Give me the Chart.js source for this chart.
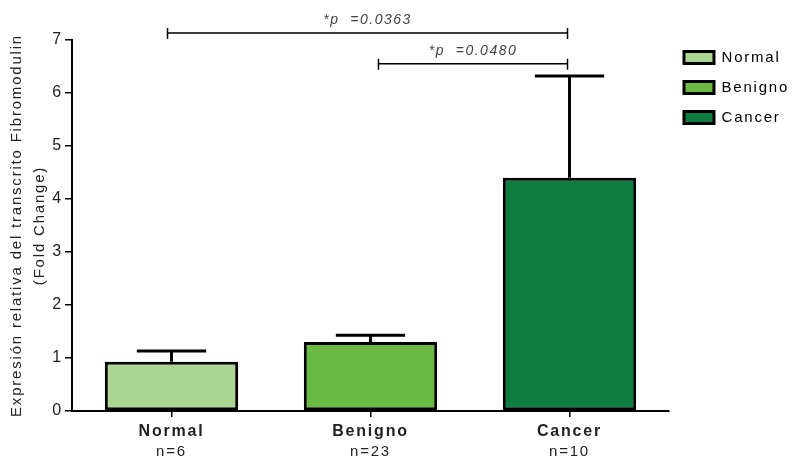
<!DOCTYPE html>
<html>
<head>
<meta charset="utf-8">
<script src="https://cdn.jsdelivr.net/npm/chart.js@4"></script>
<style>
  html, body { margin: 0; padding: 0; background: #fff; }
  #wrap { width: 799px; height: 464px; position: relative; }
</style>
</head>
<body>
<div id="wrap"><canvas id="c" width="799" height="464"></canvas></div>
<script>
// ---- data ----
const categories = ['Normal', 'Benigno', 'Cancer'];
const nLabels = ['n=6', 'n=23', 'n=10'];
const means = [0.93, 1.30, 4.40];
const errUpper = [0.20, 0.13, 1.92];
const barColors = ['#abd693', '#6aba44', '#0f7d3f'];
const yTicks = [0, 1, 2, 3, 4, 5, 6, 7];
// significance brackets (category index from/to, y value, text)
const sigFrom = [-0.02, 1.04];
const sigTo = [1.99, 1.99];
const sigY = [7.13, 6.55];
const sigText = ['*p  =0.0363', '*p  =0.0480'];

const FONT = '"Liberation Sans", Arial, sans-serif';

const spacingPlugin = {
  id: 'letterSpacing',
  beforeLayout(chart) { chart.ctx.letterSpacing = '1.8px'; },
  afterLayout(chart) { if (chart.legend) { chart.legend.top -= 5; } },
  beforeDraw(chart) { chart.ctx.letterSpacing = '1.8px'; }
};

const errorBarPlugin = {
  id: 'errorBars',
  afterDatasetsDraw(chart) {
    const ctx = chart.ctx;
    const meta = chart.getDatasetMeta(0);
    const y = chart.scales.y;
    ctx.save();
    ctx.strokeStyle = '#000';
    ctx.lineWidth = 3;
    meta.data.forEach((bar, i) => {
      const x = bar.x;
      const yTop = y.getPixelForValue(means[i] + errUpper[i]);
      const yBase = y.getPixelForValue(means[i]);
      const capHalf = bar.width * 0.26;
      ctx.beginPath();
      ctx.moveTo(x, yBase);
      ctx.lineTo(x, yTop);
      ctx.moveTo(x - capHalf, yTop);
      ctx.lineTo(x + capHalf, yTop);
      ctx.stroke();
    });
    ctx.restore();
  }
};

const sigPlugin = {
  id: 'sigBrackets',
  afterDraw(chart) {
    const ctx = chart.ctx;
    const xs = chart.scales.x;
    const ys = chart.scales.y;
    ctx.save();
    ctx.letterSpacing = '1.5px';
    ctx.strokeStyle = '#000';
    ctx.lineWidth = 1.5;
    ctx.fillStyle = '#444';
    ctx.font = 'italic 14px ' + FONT;
    ctx.textAlign = 'center';
    ctx.textBaseline = 'alphabetic';
    for (let i = 0; i < sigY.length; i++) {
      const x1 = xs.getPixelForValue(sigFrom[i]);
      const x2 = xs.getPixelForValue(sigTo[i]);
      const yy = ys.getPixelForValue(sigY[i]);
      ctx.beginPath();
      ctx.moveTo(x1, yy); ctx.lineTo(x2, yy);
      ctx.moveTo(x1, yy - 5); ctx.lineTo(x1, yy + 6);
      ctx.moveTo(x2, yy - 5); ctx.lineTo(x2, yy + 6);
      ctx.stroke();
      ctx.fillText(sigText[i], (x1 + x2) / 2, yy - 9);
    }
    ctx.restore();
  }
};

new Chart(document.getElementById('c'), {
  type: 'bar',
  data: {
    labels: categories,
    datasets: [{
      data: means,
      backgroundColor: barColors,
      borderColor: '#000',
      borderWidth: 3,
      borderSkipped: false,
      barPercentage: 0.67,
      categoryPercentage: 1.0
    }]
  },
  options: {
    responsive: false,
    animation: false,
    layout: { padding: { top: 40, right: 10, bottom: 0, left: 0 } },
    plugins: {
      tooltip: { enabled: false },
      legend: {
        position: 'right',
        align: 'start',
        maxWidth: 120,
        labels: {
          boxWidth: 30,
          boxHeight: 12,
          padding: 15,
          color: '#333',
          font: { family: FONT, size: 15 },
          generateLabels() {
            return categories.map((c, i) => ({
              text: c,
              fillStyle: barColors[i],
              strokeStyle: '#000',
              lineWidth: 3,
              hidden: false,
              index: i
            }));
          }
        }
      }
    },
    scales: {
      x: {
        type: 'category',
        offset: true,
        grid: { display: true, offset: false, drawOnChartArea: false, drawTicks: true, tickLength: 6, color: '#000', lineWidth: 1.5 },
        border: { display: true, color: '#000', width: 2 },
        ticks: { color: '#222', padding: 5, font: { family: FONT, size: 16, weight: 'bold' } },
        afterFit(s) { s.height = 32; }
      },
      x2: {
        type: 'category',
        labels: nLabels,
        position: 'bottom',
        offset: true,
        grid: { display: false, drawTicks: false, tickLength: 0 },
        border: { display: false },
        ticks: { color: '#222', padding: 0, font: { family: FONT, size: 15 } },
        afterFit(s) { s.height = 21; }
      },
      y: {
        min: 0,
        max: 7,
        afterBuildTicks(s) { s.ticks = yTicks.map(v => ({ value: v })); },
        grid: { display: true, drawOnChartArea: false, drawTicks: true, tickLength: 7, color: '#000', lineWidth: 1.5 },
        border: { display: true, color: '#000', width: 2 },
        ticks: { color: '#222', padding: 2, font: { family: FONT, size: 16 } },
        title: {
          display: true,
          text: ['Expresión relativa del transcrito Fibromodulin', '(Fold Change)'],
          color: '#222',
          padding: { top: 5, bottom: 0 },
          font: { family: FONT, size: 15, lineHeight: 1.53 }
        },
        afterFit(s) { s.width = 72; }
      }
    }
  },
  plugins: [spacingPlugin, errorBarPlugin, sigPlugin]
});
</script>
</body>
</html>
